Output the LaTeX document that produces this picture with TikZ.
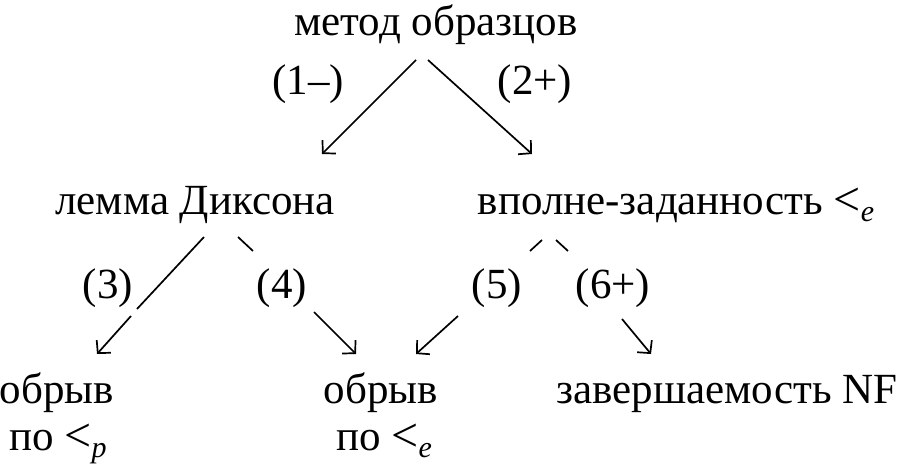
\documentclass[tikz,border=0pt]{standalone}
\usepackage{fontspec}
\setmainfont{Liberation Serif}
\usetikzlibrary{arrows.meta}
\newcommand\ltsub[1]{\raisebox{-1pt}{\fontsize{48}{48}\selectfont<}\raisebox{-7pt}{\fontsize{30}{30}\selectfont\itshape #1}}
\begin{document}
\begin{tikzpicture}[x=1pt,y=-1pt,
  lbl/.style={font=\fontsize{43}{50}\selectfont, inner sep=0pt, anchor=base},
  num/.style={font=\fontsize{43}{50}\selectfont, inner sep=0pt},
  ln/.style={line width=1.7pt},
  arr/.style={line width=1.7pt, -{Straight Barb[length=9pt,width=19pt,line width=1.7pt]}}]
\useasboundingbox (0,0) rectangle (903,474);
% texts
\node[lbl] (top) at (436,35) {метод образцов};
\node[lbl] (dix) at (195,214) {лемма Диксона};
\node[lbl] (wqo) at (676,214) {вполне-заданность \ltsub{e}};
\node[lbl] (brp) at (57,403) {обрыв};
\node[lbl] (brpb) at (58,450) {по \ltsub{p}};
\node[lbl] (bre) at (381,403) {обрыв};
\node[lbl] (breb) at (384,450) {по \ltsub{e}};
\node[lbl] (nf) at (727,403) {завершаемость NF};
% labels
\node[num] (l1) at (308,84) {(1--)};
\node[num] (l2) at (535,84) {(2+)};
\node[num] (l3) at (108,288) {(3)};
\node[num] (l4) at (282,288) {(4)};
\node[num] (l5) at (497,288) {(5)};
\node[num] (l6) at (613,288) {(6+)};
% connector points
\coordinate (a1) at (416,60);  \coordinate (b1) at (322,154);
\coordinate (a2) at (428,60);  \coordinate (b2) at (532,154);
\coordinate (a3) at (204,237); \coordinate (g3) at (137,309);
\coordinate (h3) at (131,316); \coordinate (b3) at (97,354);
\coordinate (a4) at (238,237); \coordinate (g4) at (253,251);
\coordinate (h4) at (314,312); \coordinate (b4) at (356,354);
\coordinate (a5) at (542,240); \coordinate (g5) at (530,251);
\coordinate (h5) at (458,316); \coordinate (b5) at (416,354);
\coordinate (a6) at (556,240); \coordinate (g6) at (568,251);
\coordinate (h6) at (622,319); \coordinate (b6) at (651,354);
% connectors
\draw[arr] (a1) -- (b1);
\draw[arr] (a2) -- (b2);
\draw[ln] (a3) -- (g3); \draw[arr] (h3) -- (b3);
\draw[ln] (a4) -- (g4); \draw[arr] (h4) -- (b4);
\draw[ln] (a5) -- (g5); \draw[arr] (h5) -- (b5);
\draw[ln] (a6) -- (g6); \draw[arr] (h6) -- (b6);
\end{tikzpicture}
\end{document}
